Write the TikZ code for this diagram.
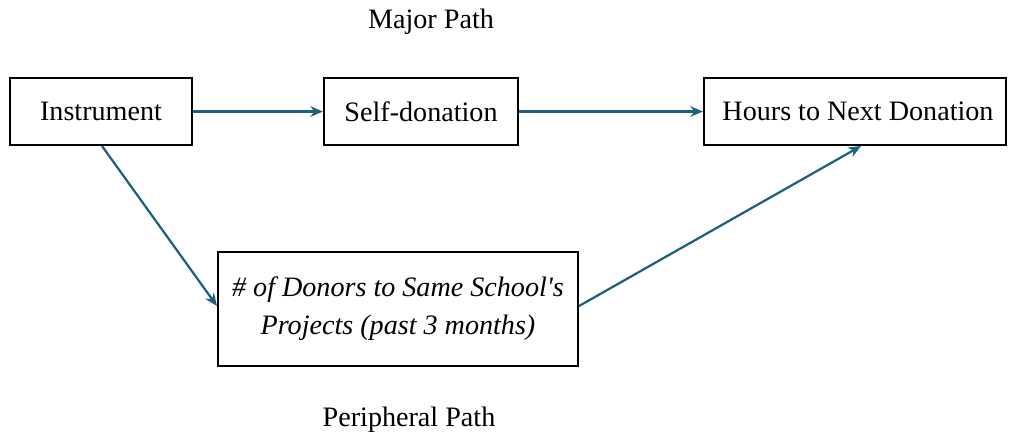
\documentclass[tikz,border=0pt]{standalone}
\usepackage{fontspec}
\setmainfont{Liberation Serif}
\usetikzlibrary{arrows.meta}
\definecolor{pathblue}{HTML}{1F5F80}
\begin{document}
\begin{tikzpicture}[x=0.025cm,y=-0.025cm,
  box/.style={draw=black,line width=1.4pt,fill=white,inner sep=0pt,
    font=\fontsize{20}{24}\selectfont,align=center},
  link/.style={draw=pathblue,line width=1.6pt,-{Stealth[length=9pt,width=7.5pt]}},
  caption/.style={font=\fontsize{20}{24}\selectfont}]
  \useasboundingbox (0,0) rectangle (1010,436);
  \node[box,minimum width=4.55cm,minimum height=1.675cm] (instr) at (101,111.5) {Instrument};
  \node[box,minimum width=4.85cm,minimum height=1.675cm] (self) at (421,111.5) {Self-donation};
  \node[box,minimum width=7.55cm,minimum height=1.675cm] (hours) at (855,111.5) {\hspace*{0.15cm}Hours to Next Donation};
  \node[box,minimum width=9.0cm,minimum height=2.85cm,font=\fontsize{20}{27}\selectfont\itshape] (donors) at (398,309)
    {\# of Donors to Same School\textquotesingle s\\Projects (past 3 months)};
  \node[caption] (major) at (431,22) {Major Path};
  \node[caption] (periph) at (409,420) {Peripheral Path};
  \draw[link] (instr.east) -- (self.west);
  \draw[link] (self.east) -- (hours.west);
  \coordinate (s1) at ([xshift=0.025cm]instr.south);
  \draw[link] (s1) -- (donors.west |- 0,306);
  \draw[link] (donors.east |- 0,306) -- ([xshift=0.15cm]hours.south);
\end{tikzpicture}
\end{document}
